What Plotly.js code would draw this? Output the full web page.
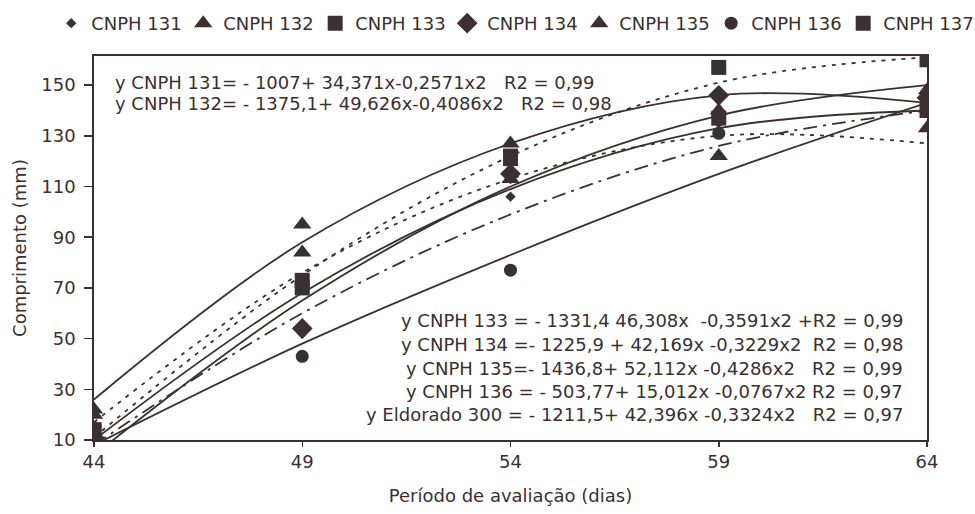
<!DOCTYPE html>
<html>
<head>
<meta charset="utf-8">
<script src="https://cdn.plot.ly/plotly-3.0.1.min.js"></script>
<style>html,body{margin:0;padding:0;background:#fff;}#chart{width:975px;height:514px;}</style>
</head>
<body>
<div id="chart"></div>
<script>
// Evaluation days
const days = [44, 49, 54, 59, 64];

const cnph131 = [12, 52, 106, 135, 141];
const cnph132 = [20, 84, 113, 122, 133];
const cnph133 = [14, 73, 122, 157, 160];
const cnph134 = [11, 54, 115, 146, 145];
const cnph135 = [22, 95, 127, 140, 148];
const cnph136 = [10, 43, 77, 131, 142];
const cnph137 = [14, 70, 121, 137, 140];

// Fitted trend curves at each day
const trend131 = [8, 60, 99, 126, 140];
const trend132 = [17, 76, 113, 130, 127];
const trend133 = [11, 75, 122, 151, 161];
const trend134 = [4, 65, 110, 138, 150];
const trend135 = [26, 88, 127, 146, 143];
const trend136 = [8, 48, 83, 115, 143];
const trend137 = [10, 68, 109, 133, 140];

const names = ['CNPH 131','CNPH 132','CNPH 133','CNPH 134','CNPH 135','CNPH 136','CNPH 137'];
const obs = [cnph131, cnph132, cnph133, cnph134, cnph135, cnph136, cnph137];
const trends = [trend131, trend132, trend133, trend134, trend135, trend136, trend137];

const equations = [
  'y CNPH 131= - 1007+ 34,371x-0,2571x2   R2 = 0,99',
  'y CNPH 132= - 1375,1+ 49,626x-0,4086x2   R2 = 0,98',
  'y CNPH 133 = - 1331,4 46,308x  -0,3591x2 +R2 = 0,99',
  'y CNPH 134 =- 1225,9 + 42,169x -0,3229x2  R2 = 0,98',
  'y CNPH 135=- 1436,8+ 52,112x -0,4286x2   R2 = 0,99',
  'y CNPH 136 = - 503,77+ 15,012x -0,0767x2 R2 = 0,97',
  'y Eldorado 300 = - 1211,5+ 42,396x -0,3324x2   R2 = 0,97'
];

const INK = '#3a3030';
const symbols = ['diamond','triangle-up','square','diamond','triangle-up','circle','square'];
const sizes = [8, 16, 15, 16, 16, 13, 15];
const dashes = ['14px,6px,3px,6px','4px,6px','4px,6px','solid','solid','solid','solid'];

const traces = [];
trends.forEach((t, i) => {
  traces.push({
    x: days, y: t, type: 'scatter', mode: 'lines', showlegend: false, hoverinfo: 'skip',
    line: {color: INK, width: 1.8, dash: dashes[i], shape: 'spline', smoothing: 1}
  });
});
obs.forEach((o, i) => {
  traces.push({
    x: days, y: o, type: 'scatter', mode: 'markers', name: names[i],
    marker: {symbol: symbols[i], size: sizes[i], color: INK, line: {width: 0}}
  });
});

const FONT = {family: '"DejaVu Sans", "Liberation Sans", Arial, sans-serif', size: 18, color: INK};

const annotations = [];
const leftPos = [[0.0228, 0.932], [0.0228, 0.876]];
[0, 1].forEach((k) => {
  annotations.push({xref: 'paper', yref: 'paper', x: leftPos[k][0], y: leftPos[k][1],
    xanchor: 'left', yanchor: 'middle', text: equations[k], showarrow: false, font: FONT});
});
const rightY = [0.3125, 0.25, 0.1875, 0.1276, 0.0677];
[2, 3, 4, 5, 6].forEach((k, j) => {
  annotations.push({xref: 'paper', yref: 'paper', x: 0.9736, y: rightY[j],
    xanchor: 'right', yanchor: 'middle', text: equations[k], showarrow: false, font: FONT});
});

const layout = {
  width: 975, height: 514,
  margin: {l: 94, r: 48, t: 56, b: 74, autoexpand: false},
  paper_bgcolor: '#ffffff', plot_bgcolor: '#ffffff',
  font: FONT,
  showlegend: true,
  legend: {orientation: 'h', x: -0.0514, y: 1.133, xanchor: 'left', yanchor: 'top',
    font: FONT, entrywidth: 87, entrywidthmode: 'pixels', itemwidth: 30,
    bgcolor: 'rgba(0,0,0,0)', tracegroupgap: 0},
  xaxis: {
    range: [44, 64], tickvals: days, ticktext: days.map(String),
    showgrid: false, zeroline: false, showline: true, linecolor: INK, linewidth: 1.8,
    mirror: true, ticks: 'outside', ticklen: 5, tickcolor: INK, tickwidth: 1.5,
    tickfont: FONT,
    title: {text: 'Período de avaliação (dias)', font: FONT, standoff: 18}
  },
  yaxis: {
    range: [10, 161.5], tickvals: [10, 30, 50, 70, 90, 110, 130, 150],
    showgrid: false, zeroline: false, showline: true, linecolor: INK, linewidth: 1.8,
    mirror: true, ticks: 'outside', ticklen: 8, tickcolor: INK, tickwidth: 1.5,
    ticklabelstandoff: 5,
    tickfont: FONT,
    title: {text: 'Comprimento (mm)', font: FONT, standoff: 10}
  },
  annotations: annotations
};

Plotly.newPlot('chart', traces, layout, {displayModeBar: false, staticPlot: true});
</script>
</body>
</html>
